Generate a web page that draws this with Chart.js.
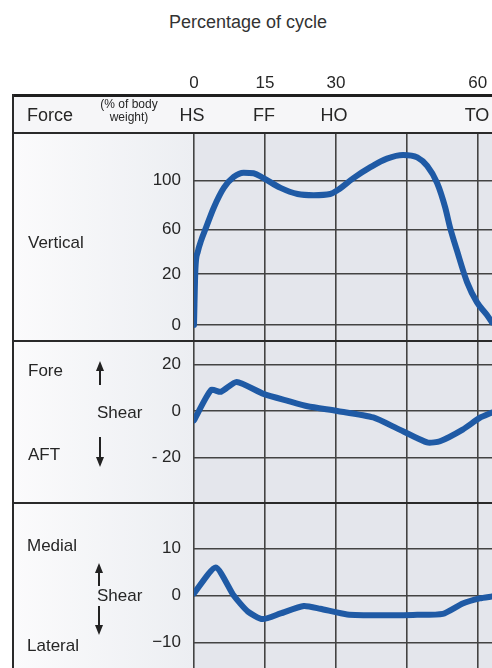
<!DOCTYPE html>
<html lang="en">
<head>
<meta charset="UTF-8">
<title>Ground reaction forces</title>
<script src="https://cdn.jsdelivr.net/npm/chart.js@4"></script>
<style>
  body { margin: 0; background: #fff; font-family: "Liberation Sans", Arial, sans-serif; color: #262626; }
  #fig { position: relative; width: 492px; height: 668px; overflow: hidden; }
  .box { position: absolute; }
  .t { position: absolute; white-space: nowrap; line-height: 1; transform: translateY(-50%); font-size: 17px; }
  .c { transform: translate(-50%, -50%); }
  canvas { position: absolute; left: 13px; }
  .shaft { position: absolute; width: 2px; background: #222; }
  .up, .down { position: absolute; width: 0; height: 0; border-left: 4px solid transparent; border-right: 4px solid transparent; }
  .up { border-bottom: 10px solid #222; }
  .down { border-top: 10px solid #222; }
</style>
</head>
<body>
<div id="fig">
  <!-- backgrounds -->
  <div class="box" style="left:13px;top:95px;width:479px;height:38px;background:#f6f6f8"></div>
  <div class="box" style="left:13px;top:133px;width:181px;height:535px;background:linear-gradient(to right,#fbfbfc,#eceef2)"></div>
  <div class="box" style="left:194px;top:133px;width:298px;height:535px;background:#e4e6ec"></div>

  <canvas id="c1" width="479" height="271" style="top:70px"></canvas>
  <canvas id="c2" width="479" height="162" style="top:341px"></canvas>
  <canvas id="c3" width="479" height="165" style="top:503px"></canvas>

  <!-- frame -->
  <div class="box" style="left:12px;top:94px;width:480px;height:3px;background:#1e1e1e"></div>
  <div class="box" style="left:12px;top:94px;width:2px;height:574px;background:#2a2a2a"></div>
  <div class="box" style="left:13px;top:132px;width:479px;height:2px;background:#2a2a2a"></div>
  <div class="box" style="left:13px;top:340px;width:479px;height:2px;background:#2a2a2a"></div>
  <div class="box" style="left:13px;top:502px;width:479px;height:2px;background:#2a2a2a"></div>

  <!-- title and header -->
  <div class="t c" style="left:248px;top:22px;font-size:18px;color:#333">Percentage of cycle</div>
  <div class="t" style="left:27px;top:115px;font-size:18px">Force</div>
  <div class="t c" style="left:129px;top:104px;font-size:12px">(% of body</div>
  <div class="t c" style="left:129px;top:117px;font-size:12px">weight)</div>
  <div class="t c" style="left:192px;top:115px;font-size:18px">HS</div>
  <div class="t c" style="left:264px;top:115px;font-size:18px">FF</div>
  <div class="t c" style="left:334px;top:115px;font-size:18px">HO</div>
  <div class="t c" style="left:477px;top:115px;font-size:18px">TO</div>

  <!-- panel labels -->
  <div class="t" style="left:28px;top:242px">Vertical</div>

  <div class="t" style="left:28px;top:370px">Fore</div>
  <div class="up" style="left:96px;top:361px"></div>
  <div class="shaft" style="left:99px;top:368px;height:17px"></div>
  <div class="t" style="left:97px;top:412px">Shear</div>
  <div class="t" style="left:28px;top:454px">AFT</div>
  <div class="shaft" style="left:99px;top:437px;height:22px"></div>
  <div class="down" style="left:96px;top:457px"></div>

  <div class="t" style="left:27px;top:545px">Medial</div>
  <div class="up" style="left:95px;top:563px"></div>
  <div class="shaft" style="left:98px;top:570px;height:16px"></div>
  <div class="t" style="left:97px;top:595px">Shear</div>
  <div class="shaft" style="left:98px;top:606px;height:21px"></div>
  <div class="down" style="left:95px;top:625px"></div>
  <div class="t" style="left:27px;top:645px">Lateral</div>
</div>

<script>
  // percentage of the gait cycle (x) and forces in % of body weight
  const cycleTicks = [0, 15, 30, 45, 60];

  const vertX = [0, 0.3, 0.8, 1.5, 2.5, 4.2, 6.3, 8.4, 10.5, 12.6, 14.7, 18.3, 21.9, 25.3, 28.8, 30.3, 33.7, 37.3, 40.8, 44.2, 47.2, 49.3, 51.4, 53.1, 54.1, 55.6, 57.7, 59.8, 61.9, 63];
  const vertY = [0, 25, 40, 50, 61, 78, 94, 103, 106.5, 106, 102, 94, 89, 88, 89, 92, 102, 111, 118, 121, 119, 112, 98, 78, 62, 41, 17, 9, 4, 1];
  const vertTicks = [0, 20, 60, 100];

  const foreX = [0, 3.6, 5.7, 9, 14.7, 20, 24, 30.3, 37.9, 42.9, 47, 49.5, 52, 56.8, 60.4, 63];
  const foreY = [-4, 9, 8.2, 12.4, 7.3, 4.2, 2, 0, -2.8, -7.5, -11.5, -13.6, -13, -8, -3, -0.7];
  const foreTicks = [-20, 0, 20];

  const medX = [0, 4.6, 8.4, 11.4, 14.5, 18.3, 23.2, 26.7, 32.4, 39.4, 46.3, 52.6, 56.8, 60.4, 63];
  const medY = [0.5, 6, 0, -3.4, -5, -3.8, -2.2, -2.8, -4, -4.2, -4.1, -3.9, -1.7, -0.6, -0.2];
  const medTicks = [-10, 0, 10];

  // the vertical panel has evenly spaced grid lines labelled 0, 20, 60, 100
  const vertSpacing = [0, 51, 96, 145];

  class BreakScale extends Chart.LinearScale {
    static id = 'breaks';
    static defaults = Chart.LinearScale.defaults;
    toUnits(v) {
      const b = vertTicks, s = vertSpacing, n = b.length - 1;
      if (v <= b[0]) return s[0] + (v - b[0]) * (s[1] - s[0]) / (b[1] - b[0]);
      if (v >= b[n]) return s[n] + (v - b[n]) * (s[n] - s[n - 1]) / (b[n] - b[n - 1]);
      let i = 0;
      while (v > b[i + 1]) i++;
      return s[i] + (v - b[i]) * (s[i + 1] - s[i]) / (b[i + 1] - b[i]);
    }
    getPixelForValue(v) {
      const lo = this.toUnits(this.min), hi = this.toUnits(this.max);
      return this.getPixelForDecimal((this.toUnits(v) - lo) / (hi - lo));
    }
    getValueForPixel(p) {
      const lo = this.toUnits(this.min), hi = this.toUnits(this.max);
      const u = lo + this.getDecimalForPixel(p) * (hi - lo);
      let best = this.min, d = Infinity;
      for (let v = this.min; v <= this.max; v += 0.5) {
        const dd = Math.abs(this.toUnits(v) - u);
        if (dd < d) { d = dd; best = v; }
      }
      return best;
    }
  }
  Chart.register(BreakScale);

  const gridColor = '#434343';
  const tickFont = { family: '"Liberation Sans", Arial, sans-serif', size: 17 };

  function pts(xs, ys) {
    return xs.map((x, i) => ({ x: x, y: ys[i] }));
  }

  // no extra room for labels: the plot must fill the panel edge to edge
  function noPad(s) {
    s.paddingTop = 0;
    s.paddingBottom = 0;
    s.paddingLeft = 0;
    s.paddingRight = 0;
  }

  function makeChart(id, xs, ys, yScale, showTop, tension, mode) {
    const xScale = {
      type: 'linear',
      position: showTop ? 'top' : 'bottom',
      min: 0,
      max: 63,
      afterBuildTicks: s => { s.ticks = cycleTicks.map(v => ({ value: v })); },
      afterFit: s => { s.height = showTop ? 63 : 0; noPad(s); },
      grid: { color: gridColor, lineWidth: 1.6, drawTicks: false },
      border: { display: false },
      ticks: {
        display: showTop,
        padding: 39,
        color: '#262626',
        font: tickFont,
        maxRotation: 0,
        callback: v => (v === 45 ? '' : v)
      }
    };
    return new Chart(document.getElementById(id), {
      type: 'line',
      data: {
        datasets: [{
          data: pts(xs, ys),
          borderColor: '#1f5aa5',
          borderWidth: 6,
          borderCapStyle: 'round',
          borderJoinStyle: 'round',
          pointRadius: 0,
          tension: tension,
          cubicInterpolationMode: mode
        }]
      },
      options: {
        responsive: false,
        animation: false,
        layout: { padding: 0 },
        plugins: { legend: { display: false }, tooltip: { enabled: false } },
        scales: {
          x: xScale,
          y: Object.assign({
            position: 'left',
            afterFit: s => { s.width = 181; noPad(s); },
            grid: { color: gridColor, lineWidth: 1.6, drawTicks: false },
            border: { display: false }
          }, yScale)
        }
      }
    });
  }

  makeChart('c1', vertX, vertY, {
    type: 'breaks', min: -6.3, max: 139,
    afterBuildTicks: s => { s.ticks = vertTicks.map(v => ({ value: v })); },
    ticks: { padding: 13, color: '#262626', font: tickFont }
  }, true, 0.4, 'monotone');

  makeChart('c2', foreX, foreY, {
    type: 'linear', min: -39.5, max: 30,
    afterBuildTicks: s => { s.ticks = foreTicks.map(v => ({ value: v })); },
    ticks: { padding: 13, color: '#262626', font: tickFont, callback: v => (v < 0 ? '- ' + (-v) : v) }
  }, false, 0.2, 'default');

  makeChart('c3', medX, medY, {
    type: 'linear', min: -15.4, max: 19.7,
    afterBuildTicks: s => { s.ticks = medTicks.map(v => ({ value: v })); },
    ticks: { padding: 13, color: '#262626', font: tickFont, callback: v => (v < 0 ? '\u2212' + (-v) : v) }
  }, false, 0.2, 'default');
</script>
</body>
</html>
